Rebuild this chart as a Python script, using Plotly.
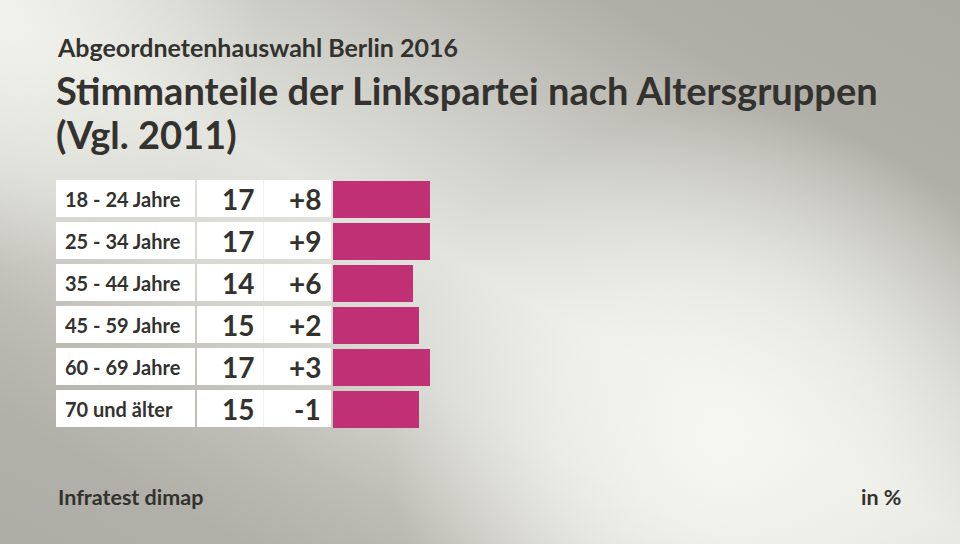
import base64
import plotly.graph_objects as go

categories = ["18 - 24 Jahre", "25 - 34 Jahre", "35 - 44 Jahre", "45 - 59 Jahre", "60 - 69 Jahre", "70 und älter"]
values = [17, 17, 14, 15, 17, 15]
diffs = ["+8", "+9", "+6", "+2", "+3", "-1"]

W, H = 960, 544
TXT = "#33322e"
BAR = "#bf3074"
FONT = "Lato"

svg = f'''<svg xmlns="http://www.w3.org/2000/svg" width="{W}" height="{H}">
<defs>
<linearGradient id="lg" gradientUnits="userSpaceOnUse" x1="715" y1="-166" x2="245" y2="716">
<stop offset="0" stop-color="#a9a8a1"/><stop offset="0.2" stop-color="#afaea7"/>
<stop offset="0.38" stop-color="#d0d0ca"/><stop offset="0.5" stop-color="#e4e4de"/>
<stop offset="0.62" stop-color="#d8d8d2"/><stop offset="0.75" stop-color="#bdbcb5"/>
<stop offset="0.85" stop-color="#b0afa8"/><stop offset="1" stop-color="#adaca5"/></linearGradient>
<radialGradient id="r1" gradientUnits="userSpaceOnUse" cx="720" cy="440" r="330">
<stop offset="0" stop-color="#f8f8f3" stop-opacity="0.95"/><stop offset="0.5" stop-color="#f8f8f3" stop-opacity="0.6"/>
<stop offset="1" stop-color="#f8f8f3" stop-opacity="0"/></radialGradient>
<radialGradient id="r2" gradientUnits="userSpaceOnUse" cx="0" cy="10" r="260">
<stop offset="0" stop-color="#f6f6f1" stop-opacity="0.8"/><stop offset="1" stop-color="#f6f6f1" stop-opacity="0"/></radialGradient>
</defs>
<rect width="{W}" height="{H}" fill="url(#lg)"/>
<rect width="{W}" height="{H}" fill="url(#r1)"/>
<rect width="{W}" height="{H}" fill="url(#r2)"/></svg>'''
bg = "data:image/svg+xml;base64," + base64.b64encode(svg.encode()).decode()

row_top, pitch, row_h = 180, 42, 37
band_top = row_top - (pitch - row_h) / 2
band_bot = band_top + pitch * len(categories)
bar_x0, px_per_unit = 333, 5.7

fig = go.Figure()
fig.add_trace(go.Bar(
    y=categories, x=values, orientation="h",
    marker=dict(color=BAR, line=dict(width=0)),
    width=row_h / pitch, hoverinfo="skip",
))

shapes = []
for i in range(len(categories)):
    t = row_top + i * pitch
    for x0, x1 in [(56, 195), (197, 331)]:
        shapes.append(dict(type="rect", xref="paper", yref="paper",
                           x0=x0 / W, x1=x1 / W, y0=1 - t / H, y1=1 - (t + row_h) / H,
                           fillcolor="white", line=dict(width=0), layer="below"))
    shapes.append(dict(type="line", xref="paper", yref="paper",
                       x0=263.5 / W, x1=263.5 / W, y0=1 - t / H, y1=1 - (t + row_h) / H,
                       line=dict(color="#efefec", width=1), layer="below"))

ann = []
for c, v, d in zip(categories, values, diffs):
    ann.append(dict(x=63 / W, xref="paper", y=c, yref="y", text=c, showarrow=False,
                    xanchor="left", font=dict(family=FONT, size=20, color=TXT, weight="bold")))
    ann.append(dict(x=238 / W, xref="paper", y=c, yref="y", text=str(v), showarrow=False,
                    xanchor="center", font=dict(family=FONT, size=28, color=TXT, weight="bold")))
    ann.append(dict(x=323 / W, xref="paper", y=c, yref="y", text=d, showarrow=False,
                    xanchor="right", font=dict(family=FONT, size=28, color=TXT, weight="bold")))

ann.append(dict(x=55 / W, y=1 - 47 / H, xref="paper", yref="paper", text="Abgeordnetenhauswahl Berlin 2016",
                showarrow=False, xanchor="left", yanchor="middle",
                font=dict(family=FONT, size=25, color=TXT, weight="bold")))
ann.append(dict(x=54 / W, y=1 - 90 / H, xref="paper", yref="paper",
                text="Stimmanteile der Linkspartei nach Altersgruppen",
                showarrow=False, xanchor="left", yanchor="middle",
                font=dict(family=FONT, size=38, color=TXT, weight="bold")))
ann.append(dict(x=54 / W, y=1 - 134 / H, xref="paper", yref="paper",
                text="(Vgl. 2011)",
                showarrow=False, xanchor="left", yanchor="middle",
                font=dict(family=FONT, size=38, color=TXT, weight="bold")))
ann.append(dict(x=56 / W, y=1 - 497 / H, xref="paper", yref="paper", text="Infratest dimap",
                showarrow=False, xanchor="left", yanchor="middle",
                font=dict(family=FONT, size=21.5, color=TXT, weight="bold")))
ann.append(dict(x=903 / W, y=1 - 497 / H, xref="paper", yref="paper", text="in %",
                showarrow=False, xanchor="right", yanchor="middle",
                font=dict(family=FONT, size=21.5, color=TXT, weight="bold")))

fig.update_layout(
    width=W, height=H, margin=dict(l=0, r=0, t=0, b=0),
    paper_bgcolor="#c8c7c1", plot_bgcolor="rgba(0,0,0,0)",
    showlegend=False, bargap=0,
    images=[dict(source=bg, xref="paper", yref="paper", x=0, y=1, sizex=1, sizey=1,
                 sizing="stretch", layer="below", xanchor="left", yanchor="top")],
    shapes=shapes, annotations=ann,
    xaxis=dict(domain=[bar_x0 / W, 1], range=[0, (W - bar_x0) / px_per_unit],
               visible=False, fixedrange=True),
    yaxis=dict(domain=[1 - band_bot / H, 1 - band_top / H], autorange="reversed",
               visible=False, fixedrange=True, type="category"),
)

fig.write_html("out.html", config={"displayModeBar": False},
               post_script="document.body.style.margin='0';document.body.style.overflow='hidden';")
